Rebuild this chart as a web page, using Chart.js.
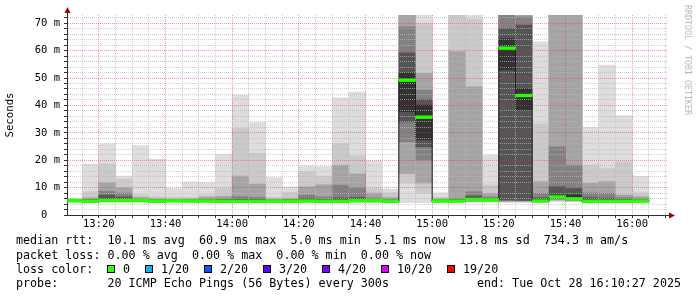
<!DOCTYPE html>
<html>
<head>
<meta charset="utf-8">
<title>SmokePing - last 3 hours</title>
<script src="https://cdn.jsdelivr.net/npm/chart.js@4.4.1/dist/chart.umd.min.js"></script>
<style>
  html, body { margin: 0; padding: 0; background: #fff; }
  #wrap { width: 697px; height: 297px; }
</style>
</head>
<body>
<div id="wrap"><canvas id="smoke" width="697" height="297"></canvas></div>
<script>
// time window of the graph and the 5 minute rrd steps (start of each step)
const windowStart = '13:10:27';
const windowEnd = '16:10:27';
const stepMinutes = 5;
const slots = ['13:10', '13:15', '13:20', '13:25', '13:30', '13:35', '13:40', '13:45', '13:50', '13:55',
               '14:00', '14:05', '14:10', '14:15', '14:20', '14:25', '14:30', '14:35', '14:40', '14:45',
               '14:50', '14:55', '15:00', '15:05', '15:10', '15:15', '15:20', '15:25', '15:30', '15:35',
               '15:40', '15:45', '15:50', '15:55', '16:00'];

// median rtt per step (ms)
const medianRtt = [5.2, 5.0, 5.3, 5.3, 5.3, 5.0, 5.2, 5.1, 5.1, 5.0,
                   5.0, 5.0, 5.0, 5.0, 5.1, 5.0, 5.0, 5.2, 5.2, 5.0,
                   49.2, 35.7, 5.1, 5.1, 5.7, 5.5, 60.9, 43.6, 5.1, 6.6,
                   5.9, 5.0, 5.0, 5.0, 5.1];
// lost pings out of 20 per step
const lostPings = [0, 0, 0, 0, 0, 0, 0, 0, 0, 0, 0, 0, 0, 0, 0, 0, 0, 0,
                   0, 0, 0, 0, 0, 0, 0, 0, 0, 0, 0, 0, 0, 0, 0, 0, 0];

// sorted ping rtts (ms), upper half of the smoke
const ping20 = [6.1, 18.6, 25.9, 14.2, 25.3, 20.4, 9.7, 12.0, 11.9, 22.2,
                43.8, 33.7, 13.7, 10.3, 17.9, 17.7, 42.8, 44.9, 19.8, 9.4,
                86.0, 84.0, 8.1, 88.0, 82.0, 21.9, 90.0, 85.0, 63.2, 87.0,
                84.0, 32.0, 54.7, 36.3, 14.1];
const ping19 = [5.9, 8.5, 18.6, 13.2, 7.3, 6.7, 6.5, 6.4, 7.3, 9.7,
                31.6, 22.5, 6.5, 8.3, 15.8, 14.2, 26.1, 21.6, 9.7, 8.2,
                80.0, 69.9, 6.5, 80.0, 71.4, 10.9, 82.0, 80.0, 33.4, 80.0,
                80.0, 18.2, 17.0, 19.4, 8.1];
const ping17 = [5.7, 6.3, 11.8, 9.8, 6.4, 6.0, 5.9, 6.0, 6.5, 6.8,
                14.2, 11.3, 5.9, 6.1, 10.3, 11.0, 18.2, 15.0, 8.0, 6.4,
                78.0, 51.7, 6.0, 59.6, 46.8, 7.9, 80.0, 74.0, 12.2, 78.0,
                78.0, 11.6, 12.2, 7.3, 6.7];
const ping15 = [5.5, 5.8, 8.6, 8.0, 5.9, 5.6, 5.6, 5.6, 5.9, 6.0,
                6.7, 6.5, 5.5, 5.7, 7.3, 6.6, 10.9, 9.7, 6.2, 5.8,
                68.7, 45.6, 5.6, 6.1, 8.5, 6.6, 77.0, 72.3, 7.9, 24.9,
                18.2, 8.1, 7.9, 6.4, 6.0];
const ping13 = [5.4, 5.5, 7.3, 6.6, 5.6, 5.3, 5.4, 5.3, 5.5, 5.6,
                5.9, 5.8, 5.3, 5.4, 6.1, 5.7, 6.3, 6.4, 5.7, 5.4,
                59.2, 42.2, 5.3, 5.7, 6.9, 6.0, 68.1, 69.3, 6.3, 10.3,
                9.7, 6.4, 6.2, 5.8, 5.6];
const ping11 = [5.3, 5.1, 5.8, 5.6, 5.4, 5.1, 5.2, 5.1, 5.2, 5.2,
                5.4, 5.3, 5.1, 5.2, 5.4, 5.2, 5.4, 5.5, 5.3, 5.1,
                51.9, 40.1, 5.2, 5.3, 6.0, 5.6, 64.4, 46.2, 5.6, 7.3,
                7.3, 5.4, 5.4, 5.3, 5.3];
// lower half of the smoke
const ping10 = [5.1, 4.9, 5.2, 5.2, 5.2, 4.9, 5.1, 5.0, 5.0, 4.9,
                4.9, 4.9, 4.9, 4.9, 5.0, 4.9, 4.9, 5.1, 5.1, 4.9,
                37.7, 27.4, 5.0, 5.0, 5.5, 5.4, 52.9, 38.3, 5.0, 6.3,
                5.7, 4.9, 4.9, 4.9, 5.0];
const ping8 = [5.0, 4.9, 5.1, 5.1, 5.1, 4.9, 5.0, 5.0, 5.0, 4.9,
               4.9, 4.9, 4.9, 4.9, 5.0, 4.9, 4.9, 5.0, 5.0, 4.9,
               34.0, 24.9, 5.0, 5.0, 5.4, 5.3, 5.5, 5.3, 5.0, 6.1,
               5.6, 4.9, 4.9, 4.9, 4.9];
const ping6 = [5.0, 4.8, 5.0, 5.0, 5.0, 4.8, 4.9, 4.9, 4.9, 4.8,
               4.8, 4.8, 4.8, 4.8, 4.9, 4.8, 4.8, 4.9, 4.9, 4.8,
               26.7, 20.1, 4.9, 4.9, 5.2, 5.2, 5.2, 5.2, 4.9, 5.8,
               5.4, 4.8, 4.8, 4.8, 4.9];
const ping4 = [4.9, 4.8, 4.9, 4.9, 4.9, 4.8, 4.9, 4.8, 4.8, 4.8,
               4.8, 4.8, 4.8, 4.8, 4.8, 4.8, 4.8, 4.9, 4.8, 4.8,
               15.2, 11.6, 4.8, 4.8, 5.0, 5.0, 5.0, 5.0, 4.8, 5.5,
               5.2, 4.8, 4.8, 4.8, 4.8];
const ping2 = [4.8, 4.7, 4.8, 4.8, 4.8, 4.7, 4.8, 4.7, 4.7, 4.7,
               4.7, 4.7, 4.7, 4.7, 4.7, 4.7, 4.7, 4.8, 4.7, 4.7,
               11.6, 8.1, 4.7, 4.7, 4.9, 4.9, 4.8, 4.8, 4.7, 5.2,
               5.0, 4.7, 4.7, 4.7, 4.7];
const ping1 = [4.7, 4.6, 4.7, 4.7, 4.7, 4.6, 4.7, 4.6, 4.6, 4.6,
               4.6, 4.6, 4.6, 4.6, 4.6, 4.6, 4.6, 4.7, 4.6, 4.6,
               4.5, 4.5, 4.6, 4.6, 4.7, 4.7, 4.6, 4.6, 4.6, 4.9,
               4.8, 4.6, 4.6, 4.6, 4.6];

// legend texts
const rttStats = ['10.1 ms avg', '60.9 ms max', '5.0 ms min', '5.1 ms now', '13.8 ms sd', '734.3 m am/s'];
const lossStats = ['0.00 % avg', '0.00 % max', '0.00 % min', '0.00 % now'];
const lossBuckets = ['0', '1/20', '2/20', '3/20', '4/20', '10/20', '19/20'];
const lossLimits = [0, 1, 2, 3, 4, 10, 19];
const lossColors = ['#26ff00', '#00b8ff', '#0059ff', '#5e00ff', '#7e00ff', '#dd00ff', '#ff0000'];
const probeText = '20 ICMP Echo Pings (56 Bytes) every 300s';
const endText = 'end: Tue Oct 28 16:10:27 2025';
const yMax = 73;

// styles
const bandShades = ['#dddddd', '#cacaca', '#a4a4a4', '#828282', '#555555', '#323232'];
const axisColor = '#303030';
const arrowColor = '#990000';
const minorGrid = 'rgba(185,185,185,0.7)';
const majorGrid = 'rgba(240,50,50,0.5)';
const MONO = '"DejaVu Sans Mono", monospace';

function toMinutes(t) {
    const p = t.split(':').map(Number);
    return p[0] * 60 + p[1] + (p[2] || 0) / 60;
}

function clock(v) {
    const h = Math.floor(v / 60);
    const m = Math.round(v - h * 60);
    return h + ':' + String(m).padStart(2, '0');
}

function lossColor(lost) {
    let c = lossColors[0];
    lossLimits.forEach((lim, i) => { if (lost >= lim) c = lossColors[i]; });
    return c;
}

const centers = slots.map(s => toMinutes(s) + stepMinutes / 2);
const lowSide = [ping1, ping2, ping4, ping6, ping8, ping10];
const highSide = [ping20, ping19, ping17, ping15, ping13, ping11];

const smokeSets = highSide.map((hi, k) => ({
    type: 'bar',
    label: 'smoke ' + (k + 1),
    data: centers.map((x, i) => ({ x: x, y: [lowSide[k][i], hi[i]] })),
    backgroundColor: bandShades[k],
    borderWidth: 0,
    grouped: false,
    barPercentage: 1,
    categoryPercentage: 1,
    order: 20 - k
}));

const medianStep = {
    type: 'line',
    label: 'median step',
    data: centers.map((x, i) => ({ x: x, y: medianRtt[i] })),
    stepped: 'middle',
    borderColor: '#202020',
    borderWidth: 1,
    pointRadius: 0,
    fill: false,
    onTop: true,
    order: 2
};

const medianBars = {
    type: 'bar',
    label: 'median rtt',
    data: centers.map((x, i) => ({ x: x, y: [medianRtt[i] - 0.5, medianRtt[i] + 0.5] })),
    backgroundColor: lostPings.map(lossColor),
    borderWidth: 0,
    grouped: false,
    barPercentage: 1,
    categoryPercentage: 1,
    onTop: true,
    order: 1
};

// median line goes above the grid, like rrdtool draws it
const medianOnTop = {
    id: 'medianOnTop',
    beforeDatasetDraw(chart, args) {
        const ds = chart.data.datasets[args.index];
        if (ds.onTop && !chart.$topPass) return false;
    },
    afterDraw(chart) {
        const ctx = chart.ctx;
        const a = chart.chartArea;
        chart.$topPass = true;
        ctx.save();
        ctx.beginPath();
        ctx.rect(a.left, a.top, a.right - a.left, a.bottom - a.top);
        ctx.clip();
        chart.data.datasets.forEach((ds, i) => {
            if (ds.onTop && ds.type === 'line') chart.getDatasetMeta(i).controller.draw();
        });
        chart.data.datasets.forEach((ds, i) => {
            if (ds.onTop && ds.type === 'bar') chart.getDatasetMeta(i).controller.draw();
        });
        ctx.restore();
        chart.$topPass = false;
    }
};

const rrdDecor = {
    id: 'rrdDecor',
    afterDraw(chart) {
        const ctx = chart.ctx;
        const a = chart.chartArea;
        ctx.save();

        // axis extensions and arrows
        ctx.strokeStyle = axisColor;
        ctx.lineWidth = 1;
        ctx.beginPath();
        ctx.moveTo(a.left + 0.5, a.top);
        ctx.lineTo(a.left + 0.5, a.top - 4);
        ctx.moveTo(a.right, a.bottom + 0.5);
        ctx.lineTo(a.right + 2, a.bottom + 0.5);
        ctx.stroke();
        ctx.fillStyle = arrowColor;
        ctx.beginPath();
        ctx.moveTo(a.left + 0.5, a.top - 8);
        ctx.lineTo(a.left + 3.5, a.top - 2);
        ctx.lineTo(a.left - 2.5, a.top - 2);
        ctx.closePath();
        ctx.fill();
        ctx.beginPath();
        ctx.moveTo(a.right + 8, a.bottom + 0.5);
        ctx.lineTo(a.right + 2, a.bottom - 2.5);
        ctx.lineTo(a.right + 2, a.bottom + 3.5);
        ctx.closePath();
        ctx.fill();

        // watermark
        ctx.save();
        ctx.translate(687.5, 5);
        ctx.rotate(Math.PI / 2);
        ctx.font = '8.3px ' + MONO;
        ctx.fillStyle = '#b8b8b8';
        ctx.textBaseline = 'middle';
        ctx.textAlign = 'left';
        ctx.fillText('RRDTOOL / TOBI OETIKER', 0, 0);
        ctx.restore();

        // legend
        ctx.font = '11.7px ' + MONO;
        ctx.fillStyle = '#000';
        ctx.textBaseline = 'middle';
        ctx.textAlign = 'left';
        ctx.fillText('median rtt:  ' + rttStats.join('  '), 16, 241);
        ctx.fillText('packet loss: ' + lossStats.join('  '), 16, 255.5);
        ctx.fillText('loss color:', 16, 269.5);
        let x = 16 + ctx.measureText('loss color:  ').width;
        lossBuckets.forEach((b, i) => {
            const bx = Math.round(x);
            ctx.fillStyle = lossColors[i];
            ctx.fillRect(bx, 265, 8, 8);
            ctx.strokeStyle = '#000';
            ctx.strokeRect(bx + 0.5, 265.5, 7, 7);
            ctx.fillStyle = '#000';
            ctx.fillText(b, bx + 16, 269.5);
            x = bx + 16 + ctx.measureText(b).width + 14.5;
        });
        ctx.fillText('probe:       ' + probeText, 16, 283.5);
        ctx.textAlign = 'right';
        ctx.fillText(endText, 681, 283.5);
        ctx.restore();
    }
};

function everyStep(scale, step) {
    const ticks = [];
    for (let v = Math.ceil(scale.min / step) * step; v <= scale.max + 1e-9; v += step) {
        ticks.push({ value: v });
    }
    scale.ticks = ticks;
}

Chart.defaults.font.family = MONO;

new Chart(document.getElementById('smoke'), {
    type: 'bar',
    data: { datasets: [medianBars, medianStep].concat(smokeSets) },
    options: {
        responsive: false,
        animation: false,
        devicePixelRatio: 1,
        events: [],
        layout: { padding: { left: 0, top: 15, right: 30, bottom: 0 } },
        plugins: {
            legend: { display: false },
            tooltip: { enabled: false }
        },
        scales: {
            x: {
                type: 'linear',
                offset: false,
                min: toMinutes(windowStart),
                max: toMinutes(windowEnd),
                afterBuildTicks: s => everyStep(s, stepMinutes),
                afterFit: s => { s.height = 82; },
                grid: {
                    z: 1,
                    offset: false,
                    color: c => (c.tick && c.tick.value % 20 === 0 ? majorGrid : minorGrid),
                    tickColor: axisColor,
                    tickLength: 3,
                    lineWidth: 1
                },
                border: { display: true, color: axisColor, width: 1, dash: [1, 1], z: 2 },
                ticks: {
                    autoSkip: false,
                    maxRotation: 0,
                    minRotation: 0,
                    padding: 0,
                    color: '#000',
                    font: { size: 10.5, family: MONO },
                    callback: v => (v % 20 === 0 ? clock(v) : '')
                }
            },
            y: {
                type: 'linear',
                min: 0,
                max: yMax,
                afterBuildTicks: s => everyStep(s, 2),
                afterFit: s => { s.width = 67; },
                grid: {
                    z: 1,
                    color: c => (c.tick && c.tick.value % 10 === 0 ? majorGrid : minorGrid),
                    tickColor: axisColor,
                    tickLength: 3,
                    lineWidth: 1
                },
                border: { display: true, color: axisColor, width: 1, dash: [1, 1], z: 2 },
                title: {
                    display: true,
                    text: 'Seconds',
                    color: '#000',
                    font: { size: 10.7, family: MONO },
                    padding: { top: 4, bottom: 0 }
                },
                ticks: {
                    autoSkip: false,
                    padding: 4,
                    color: '#000',
                    font: { size: 10.5, family: MONO },
                    callback: v => (v % 10 === 0 ? (v === 0 ? '0  ' : v + ' m') : '')
                }
            }
        }
    },
    plugins: [medianOnTop, rrdDecor]
});
</script>
</body>
</html>
